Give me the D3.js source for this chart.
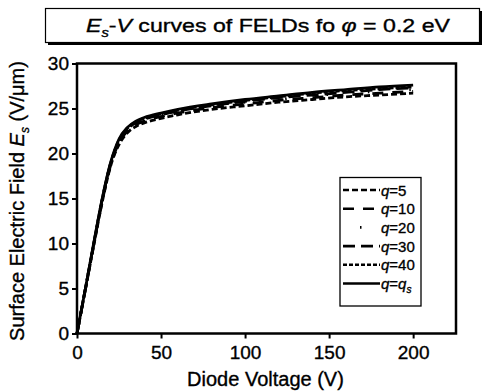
<!DOCTYPE html>
<html>
<head>
<script src="https://cdnjs.cloudflare.com/ajax/libs/d3/7.8.5/d3.min.js"></script>
<style>
  body { margin: 0; background: #fff; }
  svg { font-family: "Liberation Sans", Arial, sans-serif; }
  svg text { stroke: #000; stroke-width: 0.35px; fill: #000; }
</style>
</head>
<body>
<svg id="chart" width="484" height="391"></svg>
<script>
// diode voltage (V)
const voltage = [0, 5, 10, 15, 20, 25, 30, 35, 40, 50, 60, 80, 100, 120, 140, 160, 180, 200];

// surface electric field Es (V/um) for each q
const esQ5  = [0, 4.9, 9.8, 14.6, 18.6, 21.0, 22.3, 23.0, 23.4, 23.9, 24.3, 24.9, 25.3, 25.7, 26.0, 26.3, 26.5, 26.7];
const esQ10 = [0, 4.9, 9.9, 14.7, 18.7, 21.2, 22.5, 23.2, 23.6, 24.1, 24.5, 25.1, 25.5, 25.9, 26.2, 26.5, 26.7, 26.9];
const esQ20 = [0, 5.0, 9.9, 14.8, 18.8, 21.3, 22.6, 23.3, 23.7, 24.2, 24.6, 25.2, 25.7, 26.0, 26.4, 26.7, 26.9, 27.1];
const esQ30 = [0, 5.0, 10.0, 14.9, 18.9, 21.4, 22.7, 23.4, 23.8, 24.3, 24.7, 25.3, 25.8, 26.2, 26.5, 26.8, 27.1, 27.3];
const esQ40 = [0, 5.0, 10.0, 14.9, 18.9, 21.5, 22.8, 23.5, 23.9, 24.4, 24.8, 25.4, 25.9, 26.3, 26.7, 27.0, 27.2, 27.4];
const esQs  = [0, 5.0, 10.1, 15.0, 19.0, 21.6, 22.9, 23.6, 24.0, 24.5, 24.9, 25.5, 26.0, 26.4, 26.8, 27.1, 27.4, 27.6];

const seriesNames = ["q=5", "q=10", "q=20", "q=30", "q=40", "q=qs"];
const seriesValues = [esQ5, esQ10, esQ20, esQ30, esQ40, esQs];
const seriesDash = ["6,3", "11,9", "1.5,40", "12,6", "4,2", null];

const xTicks = [0, 50, 100, 150, 200];
const yTicks = [0, 5, 10, 15, 20, 25, 30];

const svg = d3.select("#chart");
const plotL = 77, plotR = 456, plotT = 63.5, plotB = 333.5;

const x = d3.scaleLinear().domain([0, 225.5]).range([plotL, plotR]);
const y = d3.scaleLinear().domain([0, 30]).range([plotB, plotT]);

// title box with shadow
svg.append("rect").attr("x", 48).attr("y", 11).attr("width", 434).attr("height", 34).attr("fill", "#000");
svg.append("rect").attr("x", 45.5).attr("y", 8.5).attr("width", 434).attr("height", 34)
  .attr("fill", "#fff").attr("stroke", "#000").attr("stroke-width", 1.2);

const title = svg.append("text").attr("x", 86).attr("y", 32)
  .attr("font-size", 19).attr("textLength", 364).attr("lengthAdjust", "spacingAndGlyphs");
title.append("tspan").attr("font-style", "italic").text("E");
title.append("tspan").attr("font-style", "italic").attr("font-size", 12).attr("dy", 5).text("s");
title.append("tspan").attr("dy", -5).text("-");
title.append("tspan").attr("font-style", "italic").text("V");
title.append("tspan").text(" curves of FELDs fo ");
title.append("tspan").attr("font-style", "italic").text("\u03c6");
title.append("tspan").text(" = 0.2 eV");

// lines
const line = d3.line().x((d, i) => x(voltage[i])).y(d => y(d)).curve(d3.curveMonotoneX);
seriesValues.forEach((vals, k) => {
  svg.append("path").datum(vals)
    .attr("d", line)
    .attr("fill", "none")
    .attr("stroke", "#000")
    .attr("stroke-width", 2.8)
    .attr("stroke-dasharray", seriesDash[k]);
});

// frame
svg.append("rect").attr("x", plotL).attr("y", plotT).attr("width", plotR - plotL).attr("height", plotB - plotT)
  .attr("fill", "none").attr("stroke", "#000").attr("stroke-width", 2.5);

// x axis
const xAxis = svg.append("g").attr("transform", `translate(0,${plotB})`);
xAxis.call(d3.axisBottom(x).tickValues(d3.range(25, 230, 50)).tickSize(3).tickFormat(""));
xAxis.call(d3.axisBottom(x).tickValues(xTicks).tickSize(5).tickPadding(7).tickFormat(d3.format("d")));
xAxis.selectAll(".domain").remove();
xAxis.selectAll("line").attr("stroke-width", 2);
xAxis.selectAll("text").attr("font-size", 19).attr("fill", "#000").attr("font-family", "Liberation Sans, Arial, sans-serif");

// y axis
const yAxis = svg.append("g").attr("transform", `translate(${plotL},0)`);
yAxis.call(d3.axisLeft(y).tickValues(d3.range(2.5, 30, 5)).tickSize(3).tickFormat(""));
yAxis.call(d3.axisLeft(y).tickValues(yTicks).tickSize(5).tickPadding(3).tickFormat(d3.format("d")));
yAxis.selectAll(".domain").remove();
yAxis.selectAll("line").attr("stroke-width", 2);
yAxis.selectAll("text").attr("font-size", 19).attr("fill", "#000").attr("font-family", "Liberation Sans, Arial, sans-serif");

// axis titles
svg.append("text").attr("x", (plotL + plotR) / 2 - 1).attr("y", 386)
  .attr("text-anchor", "middle").attr("font-size", 20).text("Diode Voltage (V)");

const yl = svg.append("text").attr("transform", "translate(24,201) rotate(-90)")
  .attr("text-anchor", "middle").attr("font-size", 20);
yl.append("tspan").text("Surface Electric Field ");
yl.append("tspan").attr("font-style", "italic").text("E");
yl.append("tspan").attr("font-style", "italic").attr("font-size", 12).attr("dy", 5).text("s");
yl.append("tspan").attr("dy", -5).text(" (V/\u03bcm)");

// legend
const lg = svg.append("g");
lg.append("rect").attr("x", 340).attr("y", 177.5).attr("width", 81).attr("height", 128.5)
  .attr("fill", "#fff").attr("stroke", "#000").attr("stroke-width", 1.3);
seriesNames.forEach((name, k) => {
  const ly = 190 + k * 18.7;
  lg.append("line").attr("x1", 343).attr("x2", 380).attr("y1", ly).attr("y2", ly)
    .attr("stroke", "#000").attr("stroke-width", 2.6)
    .attr("stroke-dasharray", k === 2 ? "1.5,40" : seriesDash[k])
    .attr("stroke-dashoffset", k === 2 ? -17 : 0);
  const t = lg.append("text").attr("x", 381).attr("y", ly + 5.5).attr("font-size", 15);
  t.append("tspan").attr("font-style", "italic").text("q");
  if (name === "q=qs") {
    t.append("tspan").text("=");
    t.append("tspan").attr("font-style", "italic").text("q");
    t.append("tspan").attr("font-style", "italic").attr("font-size", 10).attr("dy", 4).text("s");
  } else {
    t.append("tspan").text(name.slice(1));
  }
});
</script>
</body>
</html>
